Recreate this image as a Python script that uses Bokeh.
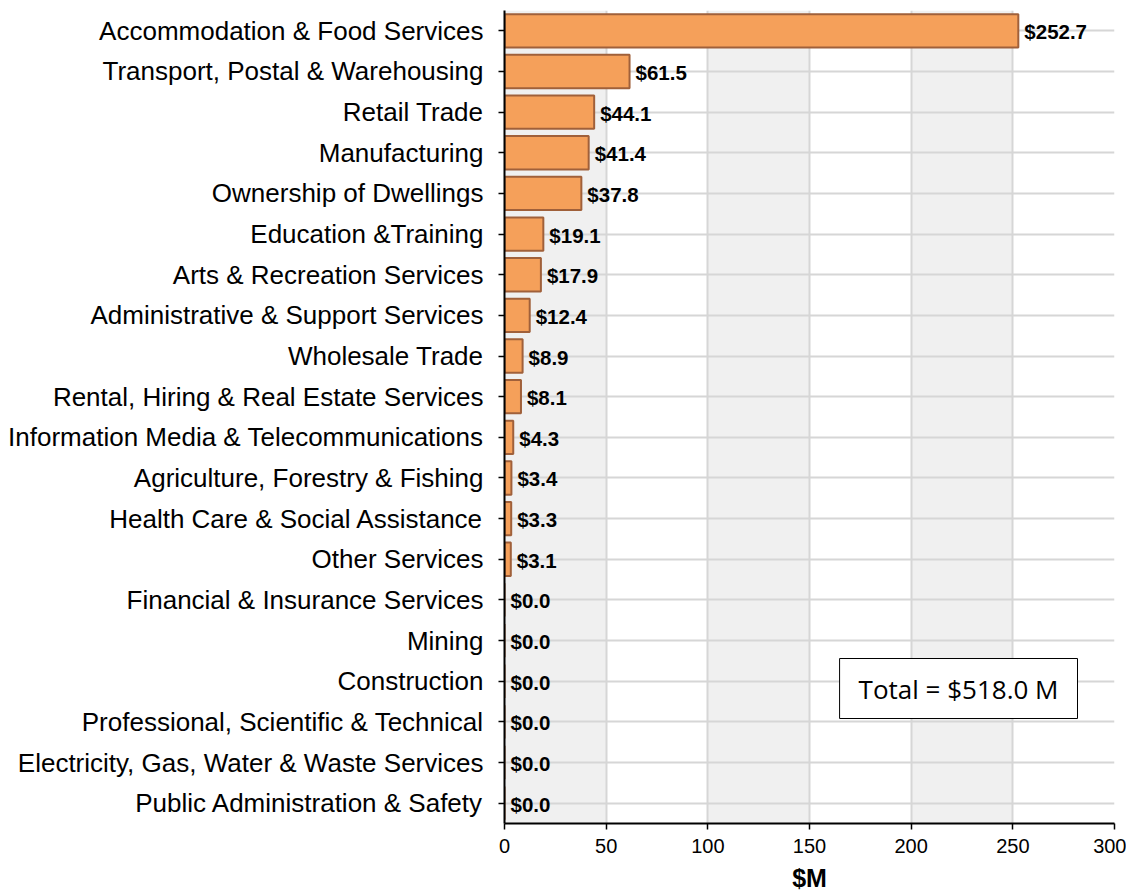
from bokeh.plotting import figure
from bokeh.models import BoxAnnotation, Label, ColumnDataSource, FixedTicker
from bokeh.core.properties import value
from bokeh.embed import file_html
from bokeh.resources import INLINE

categories = [
    "Accommodation & Food Services",
    "Transport, Postal & Warehousing",
    "Retail Trade",
    "Manufacturing",
    "Ownership of Dwellings",
    "Education &Training",
    "Arts & Recreation Services",
    "Administrative & Support Services",
    "Wholesale Trade",
    "Rental, Hiring & Real Estate Services",
    "Information Media & Telecommunications",
    "Agriculture, Forestry & Fishing",
    "Health Care & Social Assistance",
    "Other Services",
    "Financial & Insurance Services",
    "Mining",
    "Construction",
    "Professional, Scientific & Technical",
    "Electricity, Gas, Water & Waste Services",
    "Public Administration & Safety",
]
values = [252.7, 61.5, 44.1, 41.4, 37.8, 19.1, 17.9, 12.4, 8.9, 8.1,
          4.3, 3.4, 3.3, 3.1, 0.0, 0.0, 0.0, 0.0, 0.0, 0.0]
x_ticks = [0, 50, 100, 150, 200, 250, 300]
total_text = "Total = $518.0 M"

labels = ["$%.1f" % v for v in values]
src = ColumnDataSource(dict(cat=categories, val=values, lab=labels))

p = figure(
    y_range=list(reversed(categories)), x_range=(0, 300),
    frame_width=610, frame_height=813,
    min_border_left=504, min_border_right=12, min_border_top=10, min_border_bottom=60,
    output_backend="svg", toolbar_location=None,
)
p.outline_line_color = None
p.background_fill_color = "white"

for a, b in [(0, 50), (100, 150), (200, 250)]:
    p.add_layout(BoxAnnotation(left=a, right=b, fill_color="#f0f0f0", fill_alpha=1.0,
                               line_color=None, level="image"))

p.hbar(y="cat", right="val", left=0, height=0.82, source=src,
       fill_color="#F5A05A", line_color="#A0603A", line_width=2)

p.text(x="val", y="cat", text="lab", source=src, x_offset=6, y_offset=1,
       text_font=value("Liberation Sans"), text_font_style="bold",
       text_font_size="20.5px", text_baseline="middle", text_align="left",
       text_color="black")

p.xaxis.ticker = FixedTicker(ticks=x_ticks)
p.xaxis.axis_label = "$M"
p.xaxis.axis_label_text_font = "Liberation Sans"
p.xaxis.axis_label_text_font_style = "bold"
p.xaxis.axis_label_text_font_size = "25px"
p.xaxis.axis_label_text_color = "black"
p.xaxis.axis_label_standoff = 8
p.xaxis.major_label_text_font = "Liberation Sans"
p.xaxis.major_label_text_font_size = "20px"
p.xaxis.major_label_standoff = 9
p.yaxis.major_label_text_font = "Liberation Sans"
p.yaxis.major_label_text_font_size = "26px"
p.yaxis.major_label_standoff = 15
for ax in (p.xaxis, p.yaxis):
    ax.axis_line_color = "black"
    ax.axis_line_width = 2
    ax.major_tick_line_color = "black"
    ax.major_tick_line_width = 1.5
    ax.major_tick_out = 6
    ax.major_tick_in = 0
    ax.minor_tick_line_color = None
    ax.major_label_text_color = "black"

p.xgrid.grid_line_color = "#d6d6d6"
p.xgrid.grid_line_width = 2
p.ygrid.grid_line_color = "#d6d6d6"
p.ygrid.grid_line_width = 2

p.add_layout(Label(x=164.8, y=135, y_units="screen", text=total_text,
                   text_font="Open Sans", text_font_size="26px", text_color="black",
                   text_baseline="middle", text_align="left",
                   padding=(19, 12),
                   background_fill_color="white", background_fill_alpha=1.0,
                   border_line_color="black", border_line_width=1))

open("out.html", "w").write(file_html(p, INLINE))
